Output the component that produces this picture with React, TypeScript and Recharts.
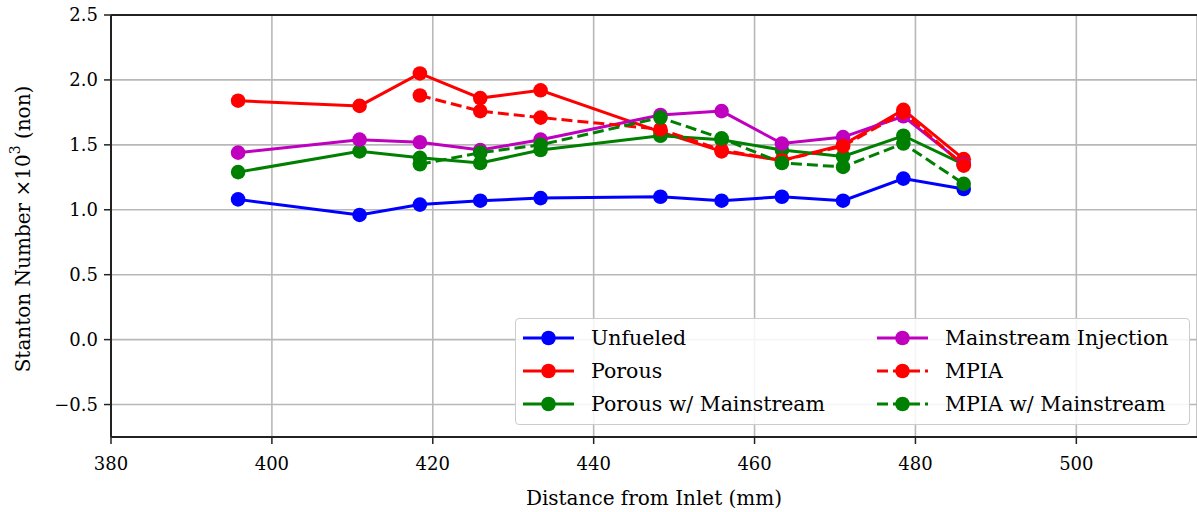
import { LineChart, Line, XAxis, YAxis, CartesianGrid, Legend, ReferenceLine } from "recharts"

// stations along the duct (mm from inlet)
const distance = [395.8, 410.9, 418.4, 425.9, 433.4, 448.3, 455.9, 463.4, 471.0, 478.5, 486.0]

// Stanton number x 10^3
const unfueled = [1.08, 0.96, 1.04, 1.07, 1.09, 1.1, 1.07, 1.1, 1.07, 1.24, 1.16]
const porous = [1.84, 1.8, 2.05, 1.86, 1.92, 1.6, 1.45, 1.38, 1.5, 1.77, 1.39]
const porousMainstream = [1.29, 1.45, 1.4, 1.36, 1.46, 1.57, 1.54, 1.46, 1.41, 1.57, 1.35]
const mainstreamInjection = [1.44, 1.54, 1.52, 1.46, 1.54, 1.73, 1.76, 1.51, 1.56, 1.72, 1.35]
const mpia = [null, null, 1.88, 1.76, 1.71, 1.62, 1.46, 1.38, 1.49, 1.75, 1.34]
const mpiaMainstream = [null, null, 1.35, 1.44, 1.5, 1.71, 1.55, 1.36, 1.33, 1.51, 1.2]

const xTicks = [380, 400, 420, 440, 460, 480, 500]
const yTicks = [-0.5, 0, 0.5, 1, 1.5, 2, 2.5]

const series = [
  { key: "unfueled", name: "Unfueled", color: "#0000ff", dash: undefined },
  { key: "porous", name: "Porous", color: "#ff0000", dash: undefined },
  { key: "porousMainstream", name: "Porous w/ Mainstream", color: "#008000", dash: undefined },
  { key: "mainstreamInjection", name: "Mainstream Injection", color: "#bf00bf", dash: undefined },
  { key: "mpia", name: "MPIA", color: "#ff0000", dash: "11 5" },
  { key: "mpiaMainstream", name: "MPIA w/ Mainstream", color: "#008000", dash: "11 5" },
]

const data = distance.map((x, i) => ({
  x,
  unfueled: unfueled[i],
  porous: porous[i],
  porousMainstream: porousMainstream[i],
  mainstreamInjection: mainstreamInjection[i],
  mpia: mpia[i],
  mpiaMainstream: mpiaMainstream[i],
}))

const FONT = "'DejaVu Serif', serif"
const AXIS = "#222"

const fmt = (v: number) => v.toFixed(1).replace("-", "\u2212")

function YLabel({ viewBox }: any) {
  const x = viewBox.x + 23
  const y = viewBox.y + viewBox.height / 2 + 3
  return (
    <text
      x={x}
      y={y}
      transform={`rotate(-90 ${x} ${y})`}
      textAnchor="middle"
      dominantBaseline="central"
      fontFamily={FONT}
      fontSize={20}
      fill="#000"
    >
      <tspan>Stanton Number ×10</tspan>
      <tspan dy={-8} fontSize={14}>3</tspan>
      <tspan dy={8}> (non)</tspan>
    </text>
  )
}

function LegendBox({ payload }: any) {
  const order = series.map((s) => s.name)
  const items = [...(payload || [])].sort((a: any, b: any) => order.indexOf(a.value) - order.indexOf(b.value))
  return (
    <div
      style={{
        boxSizing: "border-box",
        width: 675,
        height: 107,
        border: "1.5px solid #cccccc",
        borderRadius: 4,
        background: "rgba(255,255,255,0.85)",
        padding: "2px 0 0 7px",
        display: "grid",
        gridTemplateRows: "repeat(3, 33px)",
        gridTemplateColumns: "354px auto",
        gridAutoFlow: "column",
        fontFamily: FONT,
        fontSize: 20.5,
        color: "#000",
      }}
    >
      {items.map((e: any) => (
        <div key={e.value} style={{ display: "flex", alignItems: "center", whiteSpace: "nowrap" }}>
          <svg width={51} height={18} style={{ marginRight: 17, flex: "none" }}>
            <line x1={0} x2={51} y1={9} y2={9} stroke={e.color} strokeWidth={3} strokeDasharray={e.payload?.strokeDasharray} />
            <circle cx={25.5} cy={9} r={7.3} fill={e.color} />
          </svg>
          <span>{e.value}</span>
        </div>
      ))}
    </div>
  )
}

export default function App() {
  return (
    <>
      <style>{"body{margin:0;overflow:hidden}"}</style>
      <LineChart width={1197} height={512} data={data} margin={{ top: 15, right: 0, left: 0, bottom: 0 }}>
        <CartesianGrid stroke="#b8b8b8" strokeWidth={1.6} />
        <XAxis
          dataKey="x"
          type="number"
          domain={[380, 515]}
          ticks={xTicks}
          allowDataOverflow
          height={75}
          tickSize={7}
          tickMargin={13}
          axisLine={{ stroke: AXIS, strokeWidth: 2 }}
          tickLine={{ stroke: AXIS, strokeWidth: 1.5 }}
          tick={{ fill: "#000", fontFamily: FONT, fontSize: 18 }}
          label={{ value: "Distance from Inlet (mm)", position: "insideBottom", offset: 7, fill: "#000", fontFamily: FONT, fontSize: 20 }}
        />
        <YAxis
          type="number"
          domain={[-0.75, 2.5]}
          ticks={yTicks}
          allowDataOverflow
          width={111}
          tickSize={7}
          tickMargin={6}
          tickFormatter={fmt}
          axisLine={{ stroke: AXIS, strokeWidth: 2 }}
          tickLine={{ stroke: AXIS, strokeWidth: 1.5 }}
          tick={{ fill: "#000", fontFamily: FONT, fontSize: 18 }}
          label={<YLabel />}
        />
        <ReferenceLine y={2.5} stroke={AXIS} strokeWidth={2} />
        {series.map((s) => (
          <Line
            key={s.key}
            dataKey={s.key}
            name={s.name}
            stroke={s.color}
            strokeWidth={3}
            strokeDasharray={s.dash}
            dot={{ r: 7.3, fill: s.color, stroke: s.color, strokeWidth: 0, strokeDasharray: "" }}
            activeDot={false}
            isAnimationActive={false}
          />
        ))}
        <Legend
          layout="horizontal"
          verticalAlign="middle"
          align="center"
          content={<LegendBox />}
          wrapperStyle={{ left: 515, top: 318, width: 675, height: 107 }}
        />
      </LineChart>
    </>
  )
}
